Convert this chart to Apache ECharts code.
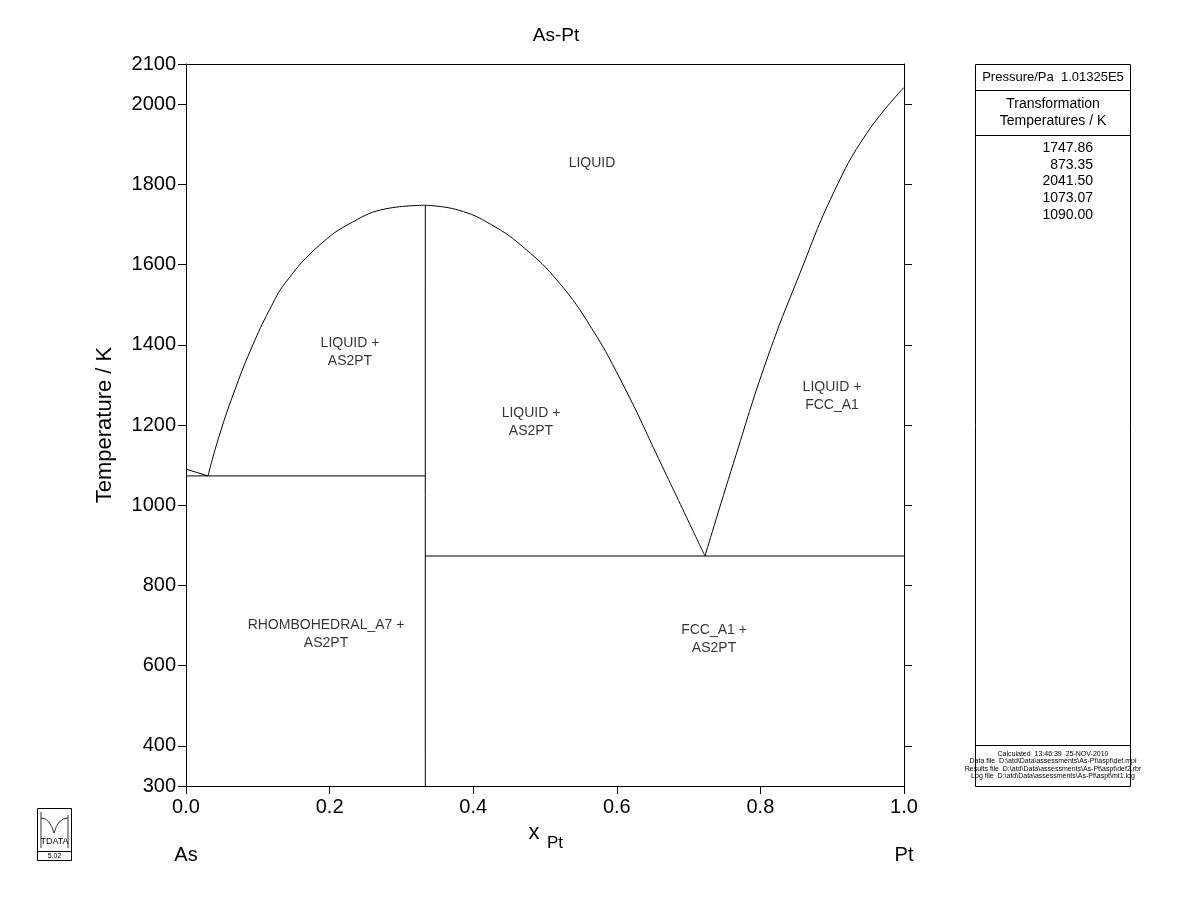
<!DOCTYPE html>
<html>
<head>
<meta charset="utf-8">
<script src="https://cdn.jsdelivr.net/npm/echarts@6/dist/echarts.min.js"></script>
<style>
  html, body { margin: 0; padding: 0; background: #fff; }
  #chart { width: 1200px; height: 923px; }
</style>
</head>
<body>
<div id="chart"></div>
<script>
// phase boundaries, x = mole fraction Pt, T in K
var liqLeftX = [0, 0.0306];
var liqLeftT = [1090.0, 1073.07];
var as2ptLeftX = [0.0306, 0.0464, 0.0696, 0.0929, 0.116, 0.139, 0.1857, 0.232, 0.2785, 0.3333];
var as2ptLeftT = [1073.07, 1174, 1295, 1399, 1486, 1556, 1648, 1706, 1739, 1747.86];
var as2ptRightX = [0.3333, 0.379, 0.4257, 0.472, 0.5186, 0.565, 0.6114, 0.658, 0.7228];
var as2ptRightT = [1747.86, 1736, 1699, 1640, 1557, 1441, 1291, 1117, 873.35];
var fccLiqX = [0.7228, 0.7623, 0.8087, 0.855, 0.9016, 0.948, 1.0];
var fccLiqT = [873.35, 1104, 1362, 1578, 1778, 1927, 2041.5];
var eut1X = [0, 0.3333];
var eut1T = [1073.07, 1073.07];
var eut2X = [0.3333, 1.0];
var eut2T = [873.35, 873.35];
var compX = [0.3333, 0.3333];
var compT = [300, 1747.86];

var yTicks = [300, 400, 600, 800, 1000, 1200, 1400, 1600, 1800, 2000, 2100];
var yTicksRight = [400, 600, 800, 1000, 1200, 1400, 1600, 1800, 2000];

var regionNames = ["LIQUID", "LIQUID +\nAS2PT", "LIQUID +\nAS2PT", "LIQUID +\nFCC_A1", "RHOMBOHEDRAL_A7 +\nAS2PT", "FCC_A1 +\nAS2PT"];
var regionX = [0.5655, 0.2284, 0.4805, 0.8997, 0.195, 0.7354];
var regionT = [1853, 1382, 1207, 1272, 679, 666];

var transTemps = ["1747.86", "873.35", "2041.50", "1073.07", "1090.00"];
var footerLines = [
  "Calculated  13:46:39  25-NOV-2010",
  "Data file  D:\\atd\\Data\\assessments\\As-Pt\\aspt\\def.mpi",
  "Results file  D:\\atd\\Data\\assessments\\As-Pt\\aspt\\def2.rbr",
  "Log file  D:\\atd\\Data\\assessments\\As-Pt\\aspt\\mt1.log"
];

function pairs(xs, ts) {
  var out = [];
  for (var i = 0; i < xs.length; i++) out.push([xs[i], ts[i]]);
  return out;
}

function boundary(xs, ts, smooth) {
  return {
    type: "line",
    data: pairs(xs, ts),
    showSymbol: false,
    smooth: smooth || false,
    silent: true,
    lineStyle: { color: "#000", width: 1 }
  };
}

var font = "Liberation Sans, Arial, sans-serif";

var labelData = [];
for (var i = 0; i < regionNames.length; i++) {
  labelData.push({ value: [regionX[i], regionT[i]], name: regionNames[i] });
}

function txt(x, y, s, size, align) {
  return { type: "text", x: x, y: y, style: { text: s, font: size + "px " + font, fill: "#000", textAlign: align || "center", textVerticalAlign: "middle" } };
}

var graphics = [];
graphics.push(txt(556, 36, "As-Pt", 19));
// x axis name with subscript
graphics.push(txt(534, 833, "x", 22));
graphics.push(txt(555, 843, "Pt", 17));
graphics.push(txt(186, 855, "As", 20));
graphics.push(txt(904, 855, "Pt", 20));

// side panel
graphics.push({ type: "rect", shape: { x: 975.5, y: 64.5, width: 155, height: 722 }, style: { fill: "none", stroke: "#000", lineWidth: 1 } });
[90.5, 135.5, 745.5].forEach(function (y) {
  graphics.push({ type: "line", shape: { x1: 975.5, y1: y, x2: 1130.5, y2: y }, style: { stroke: "#000", lineWidth: 1 } });
});
graphics.push(txt(1053, 77, "Pressure/Pa  1.01325E5", 13));
graphics.push(txt(1053, 104, "Transformation", 14));
graphics.push(txt(1053, 121, "Temperatures / K", 14));
transTemps.forEach(function (t, i) {
  graphics.push(txt(1093, 148 + i * 16.7, t, 14, "right"));
});
footerLines.forEach(function (t, i) {
  graphics.push(txt(1053, 754 + i * 7.5, t, 7));
});

// logo
graphics.push({ type: "rect", shape: { x: 37.5, y: 808.5, width: 34, height: 52 }, style: { fill: "none", stroke: "#000", lineWidth: 1 } });
graphics.push({ type: "line", shape: { x1: 37.5, y1: 851.5, x2: 71.5, y2: 851.5 }, style: { stroke: "#000", lineWidth: 1 } });
graphics.push({ type: "line", shape: { x1: 41, y1: 812, x2: 41, y2: 848 }, style: { stroke: "#000", lineWidth: 0.8 } });
graphics.push({ type: "bezierCurve", shape: { x1: 41, y1: 818, cpx1: 50, cpy1: 818, x2: 54, y2: 833 }, style: { fill: "none", stroke: "#000", lineWidth: 0.8 } });
graphics.push({ type: "bezierCurve", shape: { x1: 54, y1: 833, cpx1: 58, cpy1: 818, x2: 68, y2: 818 }, style: { fill: "none", stroke: "#000", lineWidth: 0.8 } });
graphics.push({ type: "line", shape: { x1: 68, y1: 815, x2: 68, y2: 848 }, style: { stroke: "#000", lineWidth: 0.8 } });
graphics.push(txt(54.5, 842, "TDATA", 9));
graphics.push(txt(54.5, 856, "5.02", 7));

var chart = echarts.init(document.getElementById("chart"));

var option = {
  backgroundColor: "#fff",
  animation: false,
  grid: { left: 186, top: 64, width: 718, height: 722, containLabel: false },
  xAxis: [
    {
      type: "value", min: 0, max: 1, interval: 0.2, position: "bottom",
      axisLine: { onZero: false, lineStyle: { color: "#000", width: 1 } },
      axisTick: { inside: false, length: 8, lineStyle: { color: "#000" } },
      axisLabel: { color: "#000", fontSize: 20, fontFamily: font, margin: 11, formatter: function (v) { return v.toFixed(1); } },
      splitLine: { show: false }
    },
    {
      type: "value", min: 0, max: 1, position: "top",
      axisLine: { onZero: false, lineStyle: { color: "#000", width: 1 } },
      axisTick: { show: false }, axisLabel: { show: false }, splitLine: { show: false }
    }
  ],
  yAxis: [
    {
      type: "value", min: 300, max: 2100, position: "left",
      name: "Temperature / K", nameLocation: "middle", nameGap: 70, nameRotate: 90,
      nameTextStyle: { color: "#000", fontSize: 22, fontFamily: font },
      axisLine: { onZero: false, lineStyle: { color: "#000", width: 1 } },
      axisTick: { inside: false, length: 8, customValues: yTicks, lineStyle: { color: "#000" } },
      axisLabel: { color: "#000", fontSize: 20, fontFamily: font, margin: 10, customValues: yTicks, formatter: function (v) { return String(v); } },
      splitLine: { show: false }
    },
    {
      type: "value", min: 300, max: 2100, position: "right",
      axisLine: { onZero: false, lineStyle: { color: "#000", width: 1 } },
      axisTick: { inside: false, length: 8, customValues: yTicksRight, lineStyle: { color: "#000" } },
      axisLabel: { show: false },
      splitLine: { show: false }
    }
  ],
  series: [
    boundary(liqLeftX, liqLeftT),
    boundary(as2ptLeftX, as2ptLeftT, 0.45),
    boundary(as2ptRightX, as2ptRightT, 0.45),
    boundary(fccLiqX, fccLiqT, 0.45),
    boundary(eut1X, eut1T),
    boundary(eut2X, eut2T),
    boundary(compX, compT),
    {
      type: "scatter",
      data: labelData,
      symbolSize: 0,
      silent: true,
      label: {
        show: true, position: "inside", formatter: "{b}",
        color: "#000", fontSize: 14, fontFamily: font, lineHeight: 18, align: "center"
      }
    }
  ],
  graphic: graphics
};

chart.setOption(option);
</script>
</body>
</html>
